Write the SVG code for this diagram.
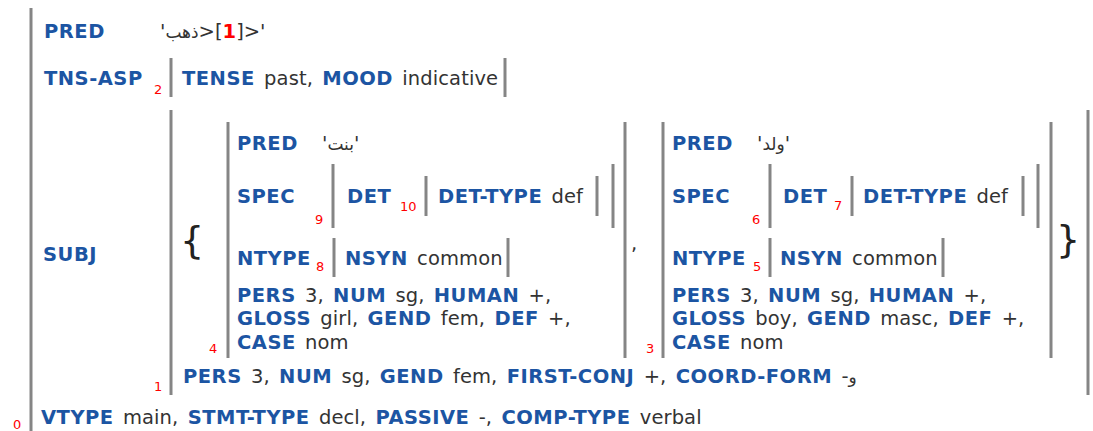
<svg xmlns="http://www.w3.org/2000/svg" width="1093" height="431" viewBox="0 0 1093 431">
  <style>
    text { font-family: "DejaVu Sans", Verdana, sans-serif; font-size: 19.5px; fill: #333333; word-spacing: 3px; }
    .k { font-weight: bold; fill: #1c55a3; letter-spacing: 0.5px; }
    .v { font-weight: normal; fill: #333333; letter-spacing: 0.1px; }
    .ar { font-size: 17px; letter-spacing: 0; }
    .idx { font-size: 13px; fill: #ff0000; font-weight: normal; }
    .ridx { font-weight: bold; fill: #ff0000; }
    .brace { font-size: 38px; font-weight: normal; fill: #222222; }
    .bar { stroke: #858585; stroke-width: 3; fill: none; }
  </style>
  <rect width="1093" height="431" fill="#ffffff"/>

  <!-- f0: main clause -->
  <g id="f0">
    <line class="bar" x1="31" y1="8" x2="31" y2="436"/>
    <text x="44" y="38"><tspan class="k">PRED</tspan></text>
    <text x="160" y="38" class="v">'<tspan class="ar">ذهب</tspan>&#x200E;&gt;[<tspan class="ridx">1</tspan>]&gt;'</text>
    <text x="44" y="85"><tspan class="k">TNS-ASP</tspan></text>
    <text x="43" y="261"><tspan class="k">SUBJ</tspan></text>
    <text x="41" y="424"><tspan class="k">VTYPE</tspan><tspan class="v"> main, </tspan><tspan class="k">STMT-TYPE</tspan><tspan class="v"> decl, </tspan><tspan class="k">PASSIVE</tspan><tspan class="v"> -, </tspan><tspan class="k">COMP-TYPE</tspan><tspan class="v"> verbal</tspan></text>
    <text class="idx" x="13" y="429">0</text>
  </g>

  <!-- f2: tense/aspect -->
  <g id="f2">
    <line class="bar" x1="171" y1="58" x2="171" y2="97"/>
    <line class="bar" x1="505" y1="58" x2="505" y2="97"/>
    <text x="182" y="85"><tspan class="k">TENSE</tspan><tspan class="v"> past, </tspan><tspan class="k">MOOD</tspan><tspan class="v"> indicative</tspan></text>
    <text class="idx" x="154" y="94">2</text>
  </g>

  <!-- f1: coordinated subject set -->
  <g id="f1">
    <line class="bar" x1="171" y1="110" x2="171" y2="395"/>
    <line class="bar" x1="1088" y1="110" x2="1088" y2="395"/>
    <text class="brace" x="180" y="253">{</text>
    <text class="brace" x="1056" y="252">}</text>
    <text class="v" x="631" y="250">,</text>
    <text x="183" y="383"><tspan class="k">PERS</tspan><tspan class="v"> 3, </tspan><tspan class="k">NUM</tspan><tspan class="v"> sg, </tspan><tspan class="k">GEND</tspan><tspan class="v"> fem, </tspan><tspan class="k">FIRST-CONJ</tspan><tspan class="v"> +, </tspan><tspan class="k">COORD-FORM</tspan><tspan class="v"> -<tspan class="ar">و</tspan></tspan></text>
    <text class="idx" x="154" y="391">1</text>
  </g>

  <!-- f4: first conjunct (girl) -->
  <g id="f4">
    <line class="bar" x1="228" y1="122" x2="228" y2="358"/>
    <line class="bar" x1="625" y1="122" x2="625" y2="358"/>
    <text x="237" y="150"><tspan class="k">PRED</tspan></text>
    <text x="322" y="150" class="v">'<tspan class="ar">بنت</tspan>'</text>
    <text x="237" y="203"><tspan class="k">SPEC</tspan></text>
    <text x="237" y="265"><tspan class="k">NTYPE</tspan></text>
    <text x="237" y="302"><tspan class="k">PERS</tspan><tspan class="v"> 3, </tspan><tspan class="k">NUM</tspan><tspan class="v"> sg, </tspan><tspan class="k">HUMAN</tspan><tspan class="v"> +,</tspan></text>
    <text x="237" y="325"><tspan class="k">GLOSS</tspan><tspan class="v"> girl, </tspan><tspan class="k">GEND</tspan><tspan class="v"> fem, </tspan><tspan class="k">DEF</tspan><tspan class="v"> +,</tspan></text>
    <text x="237" y="349"><tspan class="k">CASE</tspan><tspan class="v"> nom</tspan></text>
    <text class="idx" x="209" y="353">4</text>
  </g>

  <!-- f9: girl SPEC -->
  <g id="f9">
    <line class="bar" x1="333" y1="164" x2="333" y2="228"/>
    <line class="bar" x1="613" y1="164" x2="613" y2="228"/>
    <text x="347" y="203"><tspan class="k">DET</tspan></text>
    <text class="idx" x="315" y="224">9</text>
  </g>

  <!-- f10: girl DET -->
  <g id="f10">
    <line class="bar" x1="426" y1="176" x2="426" y2="216"/>
    <line class="bar" x1="597" y1="176" x2="597" y2="216"/>
    <text x="438" y="203"><tspan class="k">DET-TYPE</tspan><tspan class="v"> def</tspan></text>
    <text class="idx" x="400" y="211">10</text>
  </g>

  <!-- f8: girl NTYPE -->
  <g id="f8">
    <line class="bar" x1="334" y1="238" x2="334" y2="277"/>
    <line class="bar" x1="508" y1="238" x2="508" y2="277"/>
    <text x="345" y="265"><tspan class="k">NSYN</tspan><tspan class="v"> common</tspan></text>
    <text class="idx" x="316" y="271">8</text>
  </g>

  <!-- f3: second conjunct (boy) -->
  <g id="f3">
    <line class="bar" x1="663" y1="122" x2="663" y2="358"/>
    <line class="bar" x1="1051" y1="122" x2="1051" y2="358"/>
    <text x="672" y="150"><tspan class="k">PRED</tspan></text>
    <text x="757" y="150" class="v">'<tspan class="ar">ولد</tspan>'</text>
    <text x="672" y="203"><tspan class="k">SPEC</tspan></text>
    <text x="672" y="265"><tspan class="k">NTYPE</tspan></text>
    <text x="672" y="302"><tspan class="k">PERS</tspan><tspan class="v"> 3, </tspan><tspan class="k">NUM</tspan><tspan class="v"> sg, </tspan><tspan class="k">HUMAN</tspan><tspan class="v"> +,</tspan></text>
    <text x="672" y="325"><tspan class="k">GLOSS</tspan><tspan class="v"> boy, </tspan><tspan class="k">GEND</tspan><tspan class="v"> masc, </tspan><tspan class="k">DEF</tspan><tspan class="v"> +,</tspan></text>
    <text x="672" y="349"><tspan class="k">CASE</tspan><tspan class="v"> nom</tspan></text>
    <text class="idx" x="646" y="353">3</text>
  </g>

  <!-- f6: boy SPEC -->
  <g id="f6">
    <line class="bar" x1="770" y1="164" x2="770" y2="228"/>
    <line class="bar" x1="1038" y1="164" x2="1038" y2="228"/>
    <text x="783" y="203"><tspan class="k">DET</tspan></text>
    <text class="idx" x="752" y="224">6</text>
  </g>

  <!-- f7: boy DET -->
  <g id="f7">
    <line class="bar" x1="852" y1="176" x2="852" y2="216"/>
    <line class="bar" x1="1023" y1="176" x2="1023" y2="216"/>
    <text x="863" y="203"><tspan class="k">DET-TYPE</tspan><tspan class="v"> def</tspan></text>
    <text class="idx" x="834" y="210">7</text>
  </g>

  <!-- f5: boy NTYPE -->
  <g id="f5">
    <line class="bar" x1="770" y1="238" x2="770" y2="277"/>
    <line class="bar" x1="943" y1="238" x2="943" y2="277"/>
    <text x="780" y="265"><tspan class="k">NSYN</tspan><tspan class="v"> common</tspan></text>
    <text class="idx" x="753" y="271">5</text>
  </g>
</svg>
